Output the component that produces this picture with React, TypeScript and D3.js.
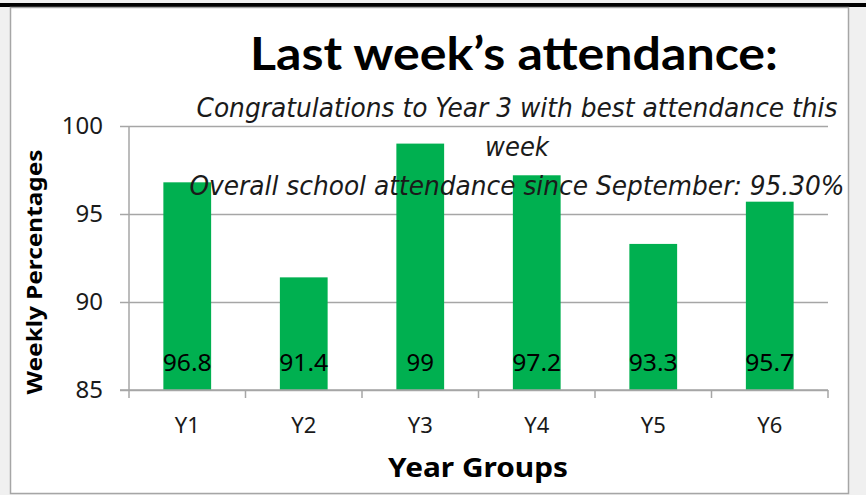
import { useEffect, useRef } from "react";
import { scaleBand, scaleLinear, select, axisLeft, axisBottom } from "d3";

const W = 866;
const H = 495;
const MARGIN = { top: 126, right: 38, bottom: 105, left: 129 };

const categories = ["Y1", "Y2", "Y3", "Y4", "Y5", "Y6"];
const values = [96.8, 91.4, 99, 97.2, 93.3, 95.7];
const yTicks = [85, 90, 95, 100];

const TITLE = "Last week\u2019s attendance:";
const SUBTITLE = [
  "Congratulations to Year 3 with best attendance this",
  "week",
  "Overall school attendance since September: 95.30%",
];
const FONT = "'Noto Sans', 'DejaVu Sans', sans-serif";
const NARROW = "'Liberation Sans Narrow', 'DejaVu Sans Condensed', 'Noto Sans', sans-serif";

export default function App() {
  const innerW = W - MARGIN.left - MARGIN.right;
  const innerH = H - MARGIN.top - MARGIN.bottom;

  const x = scaleBand<string>().domain(categories).range([0, innerW]).paddingInner(0.59).paddingOuter(0.295);
  const xCat = scaleBand<string>().domain(categories).range([0, innerW]);
  const y = scaleLinear().domain([85, 100]).range([innerH, 0]);

  const yAxisRef = useRef<SVGGElement>(null);
  const xAxisRef = useRef<SVGGElement>(null);

  useEffect(() => {
    if (yAxisRef.current) {
      const g = select(yAxisRef.current);
      g.call(axisLeft(y).tickValues(yTicks).tickSize(-innerW - 9).tickPadding(26).tickFormat((d) => String(d)));
      g.select(".domain").remove();
      g.selectAll(".tick line").attr("stroke", "#a6a6a6").attr("stroke-width", 1.5).attr("transform", "translate(-9,0)");
      g.selectAll(".tick text")
        .attr("font-family", FONT)
        .attr("font-size", 24)
        .attr("fill", "#1a1a1a");
    }
    if (xAxisRef.current) {
      const g = select(xAxisRef.current);
      g.call(axisBottom(xCat).tickSize(0).tickPadding(27));
      g.select(".domain").remove();
      g.selectAll(".tick text")
        .attr("font-family", FONT)
        .attr("font-size", 22)
        .attr("fill", "#1a1a1a");
      // category boundary ticks
      const bounds = [...categories.map((c) => xCat(c) ?? 0), innerW];
      g.selectAll("line.bound")
        .data(bounds)
        .join("line")
        .attr("class", "bound")
        .attr("x1", (d) => d)
        .attr("x2", (d) => d)
        .attr("y1", 0)
        .attr("y2", 8)
        .attr("stroke", "#a6a6a6")
        .attr("stroke-width", 1.5);
    }
  }, []);

  return (
    <svg width={W} height={H} style={{ position: "absolute", left: 0, top: 0, background: "#f0f0f0" }}>
      <rect x={0} y={3} width={W} height={4} fill="#000" />
      <rect x={10.5} y={7.5} width={838} height={486} fill="#fff" stroke="#a6a6a6" strokeWidth={1.5} />
      <text
        x={514}
        y={70}
        textAnchor="middle"
        fontFamily="Lato, 'Noto Sans', sans-serif"
        fontWeight={700}
        fontSize={45}
        fill="#000"
        textLength={528}
        lengthAdjust="spacingAndGlyphs"
      >
        {TITLE}
      </text>
      <g transform={`translate(${MARGIN.left},${MARGIN.top})`}>
        <g ref={yAxisRef} />
        <line x1={0} x2={0} y1={0} y2={innerH} stroke="#a6a6a6" strokeWidth={1.5} />
        {categories.map((c, i) => (
          <rect key={c} x={x(c)} y={y(values[i])} width={x.bandwidth()} height={innerH - y(values[i])} fill="#00b050" />
        ))}
        {categories.map((c, i) => (
          <text
            key={c + "l"}
            x={(x(c) ?? 0) + x.bandwidth() / 2}
            y={innerH - 19}
            textAnchor="middle"
            fontFamily={FONT}
            fontSize={24}
            fill="#000"
            textLength={String(values[i]).length > 2 ? 49 : undefined}
            lengthAdjust="spacingAndGlyphs"
          >
            {values[i]}
          </text>
        ))}
        <g ref={xAxisRef} transform={`translate(0,${innerH})`} />
        <line x1={-9} x2={innerW} y1={innerH} y2={innerH} stroke="#a6a6a6" strokeWidth={1.5} />
      </g>
      {SUBTITLE.map((s, i) => (
        <text
          key={i}
          x={517}
          y={117 + i * 39}
          textAnchor="middle"
          fontFamily={NARROW}
          fontStyle="italic"
          fontSize={27}
          fill="#1a1a1a"
          textLength={i === 0 ? 641 : i === 2 ? 655 : undefined}
          lengthAdjust="spacingAndGlyphs"
        >
          {s}
        </text>
      ))}
      <text
        transform="translate(42,272) rotate(-90)"
        textAnchor="middle"
        fontFamily={FONT}
        fontWeight={700}
        fontSize={22}
        fill="#000"
        textLength={245}
        lengthAdjust="spacingAndGlyphs"
      >
        Weekly Percentages
      </text>
      <text
        x={478}
        y={477}
        textAnchor="middle"
        fontFamily={FONT}
        fontWeight={700}
        fontSize={27}
        fill="#000"
        textLength={180}
        lengthAdjust="spacingAndGlyphs"
      >
        Year Groups
      </text>
    </svg>
  );
}
